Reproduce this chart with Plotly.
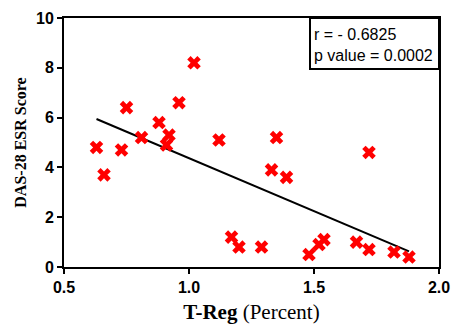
import numpy as np
import plotly.graph_objects as go

treg = [0.63, 0.66, 0.73, 0.75, 0.81, 0.88, 0.91, 0.92, 0.96, 1.02, 1.12, 1.17, 1.20,
        1.29, 1.33, 1.35, 1.39, 1.48, 1.52, 1.54, 1.67, 1.72, 1.72, 1.82, 1.88]
das28 = [4.8, 3.7, 4.7, 6.4, 5.2, 5.8, 4.9, 5.3, 6.6, 8.2, 5.1, 1.2, 0.8,
         0.8, 3.9, 5.2, 3.6, 0.5, 0.9, 1.1, 1.0, 4.6, 0.7, 0.6, 0.4]

x_ticks = [0.5, 1.0, 1.5, 2.0]
y_ticks = [0, 2, 4, 6, 8, 10]
stats_text = "r = - 0.6825<br>p value = 0.0002"

xa = np.array(treg)
ya = np.array(das28)
slope, intercept = np.polyfit(xa, ya, 1)
fit_x = [xa.min(), xa.max()]
fit_y = [slope * v + intercept for v in fit_x]

fig = go.Figure()
fig.add_trace(go.Scatter(x=fit_x, y=fit_y, mode="lines",
                         line=dict(color="black", width=2), showlegend=False))
fig.add_trace(go.Scatter(x=treg, y=das28, mode="markers",
                         marker=dict(symbol="x", size=12, color="#ff0000",
                                     line=dict(width=0)),
                         showlegend=False))

axis_common = dict(showline=True, linecolor="black", linewidth=2, mirror=True,
                   ticks="outside", ticklen=5, tickwidth=2, tickcolor="black",
                   showgrid=False, zeroline=False, automargin=False,
                   tickfont=dict(family="Liberation Sans", size=16, color="black", weight="bold"))

fig.update_layout(
    width=453, height=325,
    margin=dict(l=64, r=14, t=18, b=58),
    paper_bgcolor="white", plot_bgcolor="white",
    xaxis=dict(range=[0.5, 2.0], tickvals=x_ticks, tickformat=".1f",
               title=dict(text="<b>T-Reg</b> (Percent)", standoff=9,
                          font=dict(family="Liberation Serif", size=21, color="black")),
               **axis_common),
    yaxis=dict(range=[0, 10], tickvals=y_ticks,
               title=dict(text="<b>DAS-28 ESR Score</b>", standoff=5,
                          font=dict(family="Liberation Serif", size=16, color="black")),
               **axis_common),
    shapes=[dict(type="rect", xref="paper", yref="paper",
                 x0=0.656, x1=1.0, y0=0.795, y1=1.0,
                 line=dict(color="black", width=2), fillcolor="white", layer="above")],
    annotations=[dict(text=stats_text, xref="paper", yref="paper",
                      x=0.66, y=0.975, xanchor="left", yanchor="top", align="left",
                      showarrow=False,
                      font=dict(family="Liberation Sans", size=16, color="black"))],
)

fig.write_html("out.html", config={"displayModeBar": False},
               post_script="document.body.style.margin='0';document.body.style.overflow='hidden';")
